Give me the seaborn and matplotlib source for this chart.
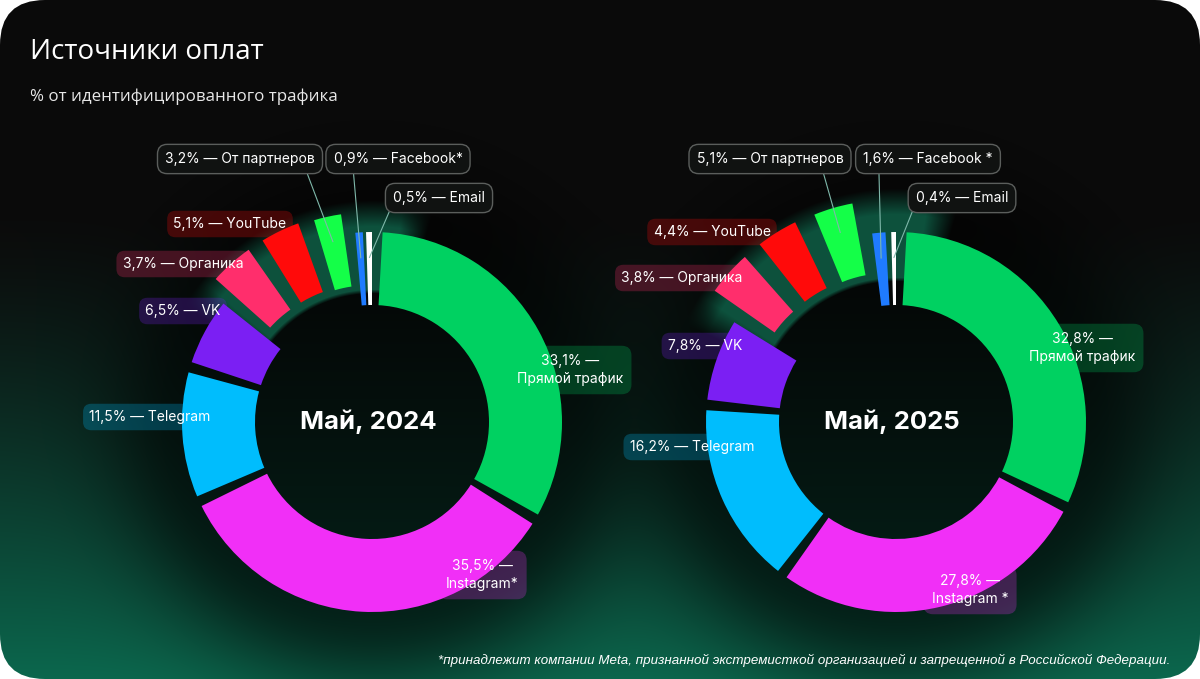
import numpy as np
import matplotlib
matplotlib.use("Agg")
import matplotlib.pyplot as plt
from matplotlib.patches import FancyBboxPatch
from matplotlib.colors import to_rgba, to_rgb
import seaborn as sns

# ---------------------------------------------------------------
# данные
# ---------------------------------------------------------------
sources = ["Прямой трафик", "Instagram", "Telegram", "VK", "Органика",
           "YouTube", "От партнеров", "Facebook", "Email"]
share_2024 = [33.1, 35.5, 11.5, 6.5, 3.7, 5.1, 3.2, 0.9, 0.5]
share_2025 = [32.8, 27.8, 16.2, 7.8, 3.8, 4.4, 5.1, 1.6, 0.4]
periods = ["Май, 2024", "Май, 2025"]
meta_owned = ["Instagram", "Facebook"]

source_colors = ["#00d161", "#f12ff7", "#00bdfd", "#7b1ff3", "#ff2e6c",
                 "#ff0a0a", "#14ff48", "#1f7bff", "#ffffff"]

W, H = 1200, 679

sns.set_theme(style="white")
plt.rcParams["font.family"] = ["Inter", "DejaVu Sans"]
palette = dict(zip(sources, sns.color_palette(source_colors)))

fig = plt.figure(figsize=(12, 6.79), dpi=100, facecolor="white")
ax = fig.add_axes([0, 0, 1, 1])

R_OUT, RING_W = 190, 73
centers = [(372, 422), (896, 422)]
explode_px = [{"Органика": 22, "YouTube": 22, "От партнеров": 20},
              {"Органика": 34, "YouTube": 34, "От партнеров": 33}]
all_shares = [share_2024, share_2025]

# ---------------------------------------------------------------
# фон: градиент от чёрного к зелёному, тень вокруг колец,
# мягкая подложка под «выдвинутыми» сегментами
# ---------------------------------------------------------------
yy, xx = np.mgrid[0:H, 0:W]
t = np.clip((yy - 220) / 460, 0, 1) ** 1.25
top_c = np.array([11, 11, 11]) / 255
bot_c = np.array([12, 104, 78]) / 255
img = top_c + (bot_c - top_c) * t[..., None]
glow_c = np.array(to_rgb("#0e5a43"))
for k, (cx, cy) in enumerate(centers):
    r = np.hypot(xx - cx, yy - cy)
    shade = 0.62 * np.exp(-(np.maximum(r - 185, 0) / 85) ** 2)
    img = img * (1 - shade[..., None])

    shares = all_shares[k]
    start = 360 * sum(shares[:sources.index("Органика")]) / sum(shares) - 10
    span = 360 - start + 16
    cw = np.degrees(np.arctan2(xx - cx, -(yy - cy))) % 360
    rel = (cw - start) % 360
    a_ang = np.where(rel < span, np.clip(np.minimum(rel, span - rel) / 8, 0, 1), 0)
    ex = max(explode_px[k].values())
    r_in = R_OUT - RING_W + ex - 10
    r_top = R_OUT + ex + 10
    a_rad = np.clip((r_top - r) / 26, 0, 1) * np.clip((r - r_in) / 4, 0, 1)
    a = (0.9 * a_ang * a_rad)[..., None]
    img = img * (1 - a) + glow_c * a

frame = FancyBboxPatch((0, 0), W, H, boxstyle="round,pad=0,rounding_size=45",
                       facecolor="none", edgecolor="none", transform=ax.transData)
ax.add_patch(frame)
bg = ax.imshow(img, extent=(0, W, 0, H), origin="upper", zorder=0)
bg.set_clip_path(frame)

# ---------------------------------------------------------------
# кольца
# ---------------------------------------------------------------
label_pos = [
    {"Прямой трафик": (570, 370), "Instagram": (482, 575), "Telegram": (150, 417),
     "VK": (183, 311), "Органика": (183, 264), "YouTube": (230, 224),
     "От партнеров": (240, 159), "Facebook": (398, 159), "Email": (439, 198)},
    {"Прямой трафик": (1082, 348), "Instagram": (970, 590), "Telegram": (692, 447),
     "VK": (705, 346), "Органика": (682, 278), "YouTube": (712, 232),
     "От партнеров": (770, 159), "Facebook": (928, 159), "Email": (962, 198)},
]
boxed_rel = [{"От партнеров": (0.93, 0.0), "Facebook": (0.15, 0.0), "Email": (0.0, 0.15)},
             {"От партнеров": (0.85, 0.0), "Facebook": (0.12, 0.0), "Email": (0.0, 0.15)}]
star_sep = ["", " "]

for k, shares in enumerate(all_shares):
    cx, cy = centers[k]
    c = (cx, H - cy)

    wedges, _ = ax.pie(shares, colors=[palette[s] for s in sources], radius=R_OUT,
                       center=c, startangle=90, counterclock=False,
                       explode=[explode_px[k].get(s, 0) for s in sources],
                       wedgeprops=dict(width=RING_W, linewidth=0, zorder=3), frame=True)

    # зазоры между сегментами (вырезаем из большего соседа)
    n = len(wedges)
    for i in range(n):
        j = (i + 1) % n
        wi, wj = wedges[i], wedges[j]
        si, sj = wi.theta2 - wi.theta1, wj.theta2 - wj.theta1
        if si >= sj:
            wi.set_theta1(wi.theta1 + min(3.2, 0.3 * si))
        else:
            wj.set_theta2(wj.theta2 - min(3.2, 0.3 * sj))

    # центральная подпись
    ax.text(cx - 4, H - cy, periods[k], color="white", fontsize=18.5, fontweight="bold",
            ha="center", va="center", zorder=5)

    # подписи сегментов
    for s, v, w in zip(sources, shares, wedges):
        pct = f"{v:.1f}".replace(".", ",") + "%"
        name = s + (star_sep[k] + "*" if s in meta_owned else "")
        lx, ly = label_pos[k][s]
        col = palette[s]
        if s in boxed_rel[k]:
            mid = np.deg2rad(0.5 * (w.theta1 + w.theta2))
            rr = w.r - w.width * 0.35
            tx = w.center[0] + rr * np.cos(mid)
            ty = w.center[1] + rr * np.sin(mid)
            ax.annotate(f"{pct} — {name}", xy=(tx, ty), xytext=(lx, H - ly),
                        color="white", fontsize=10, ha="center", va="center", zorder=6,
                        bbox=dict(boxstyle="round,pad=0.55,rounding_size=0.7",
                                  facecolor="#101211", edgecolor="#5b5e5c", linewidth=1),
                        arrowprops=dict(arrowstyle="-", color="#7fb8aa", lw=0.8,
                                        shrinkA=0, shrinkB=0, relpos=boxed_rel[k][s]))
        elif s in ("Прямой трафик", "Instagram"):
            ax.text(lx, H - ly, f"{pct} —\n{name}", color="white", fontsize=10,
                    ha="center", va="center", linespacing=1.35, zorder=6,
                    bbox=dict(boxstyle="round,pad=0.6,rounding_size=0.7",
                              facecolor=to_rgba(col, 0.25), edgecolor="none"))
        else:
            ax.text(lx, H - ly, f"{pct} — {name}", color="white", fontsize=10,
                    ha="center", va="center", zorder=6,
                    bbox=dict(boxstyle="round,pad=0.45,rounding_size=0.6",
                              facecolor=to_rgba(col, 0.25), edgecolor="none"))

# ---------------------------------------------------------------
# заголовки и сноска
# ---------------------------------------------------------------
ax.text(30, H - 52, "Источники оплат", color="white", fontsize=20,
        family=["Open Sans", "DejaVu Sans"], va="center", ha="left", zorder=6)
ax.text(30, H - 97, "% от идентифицированного трафика", color="#e8e8e8", fontsize=12.2,
        family=["Open Sans", "DejaVu Sans"], va="center", ha="left", zorder=6)
ax.text(1170, H - 660,
        "*принадлежит компании Meta, признанной экстремисткой организацией "
        "и запрещенной в Российской Федерации.",
        color="white", fontsize=9.6, style="italic", family=["Liberation Sans", "DejaVu Sans"],
        va="center", ha="right", zorder=6)

ax.set_xlim(0, W)
ax.set_ylim(0, H)
ax.set_aspect("auto")
ax.axis("off")

fig.savefig("out.png", dpi=100, facecolor="white")
